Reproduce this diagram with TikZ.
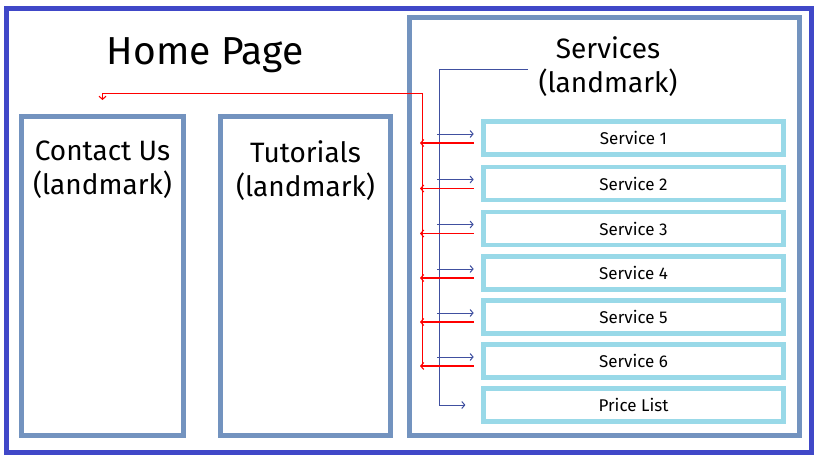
\documentclass[tikz,border=0pt]{standalone}
\usepackage{fontspec}
\setmainfont{Fira Sans}
\usetikzlibrary{arrows.meta,positioning}
\definecolor{framecol}{HTML}{4048C8}
\definecolor{landcol}{HTML}{7393BF}
\definecolor{servcol}{HTML}{99D9E8}
\definecolor{buscol}{HTML}{4050A0}
\begin{document}
\begin{tikzpicture}[x=1pt, y=-1pt, >={Straight Barb[length=3pt,width=7pt]},
	landmark/.style={draw=landcol, line width=5pt, inner sep=0pt},
	servbox/.style={draw=servcol, line width=4.6pt, minimum width=300pt, minimum height=33pt, inner sep=0pt, font=\fontsize{17}{20}\selectfont},
	title/.style={align=center, inner sep=0pt, font=\fontsize{28}{34}\selectfont},
	bus/.style={buscol, line width=1pt},
	back/.style={red, line width=1.1pt}]
				\useasboundingbox (0,0) rectangle (819,460);
				
				% outer frame
				\draw[framecol, line width=5pt] (6.5,8.5) rectangle (811,452);
				
				% landmarks
				\node[landmark, minimum width=162pt, minimum height=319pt] (contact) at (102.5,276) {};
				\node[landmark, minimum width=170pt, minimum height=319pt] (tutorials) at (305.5,276) {};
				\node[landmark, minimum width=390pt, minimum height=418pt] (services) at (604.5,226.5) {};
				
				\node[anchor=base, font=\fontsize{39}{47}\selectfont] (home) at (205,65) {Home Page};
				\node[title, below=26.5pt of contact.north] (contacttext) {Contact Us\\(landmark)};
				\node[title, below=26.5pt of tutorials.north] (tutorialstext) {Tutorials\\(landmark)};
				\node[title, below=21pt of services.north, xshift=3.5pt] (servicestext) {Services\\(landmark)};
				
				% service list
				\foreach \i/\y/\t in {1/138/Service 1, 2/183.5/Service 2, 3/228.5/Service 3, 4/273/Service 4, 5/317/Service 5, 6/361/Service 6, 7/405/Price List}
					\node[servbox] (s\i) at (633.5,\y) {\t};
				
				% links to the services
				\coordinate (bustop) at (528,69.3);
				\coordinate (busturn) at (439.3,69.3);
				\draw[bus, ->, shorten >=15.8pt] (bustop) -- (busturn) |- (s7.west);
				\foreach \i in {1,...,6}
					\draw[bus, ->] ([xshift=-44.2pt,yshift=4pt]s\i.west) -- ([xshift=-7.5pt,yshift=4pt]s\i.west);
				
				% links back
				\coordinate (redend) at (422.3,366.3);
				\coordinate (redturn) at (422.3,93.3);
				\draw[back, ->, shorten >=14pt] (redend) -- (redturn) -| (contact.north);
				\foreach \i in {1,...,6}
					\draw[back, ->] ([xshift=-7.5pt,yshift=-5pt]s\i.west) -- ([xshift=-61.2pt,yshift=-5pt]s\i.west);
			\end{tikzpicture}
\end{document}
